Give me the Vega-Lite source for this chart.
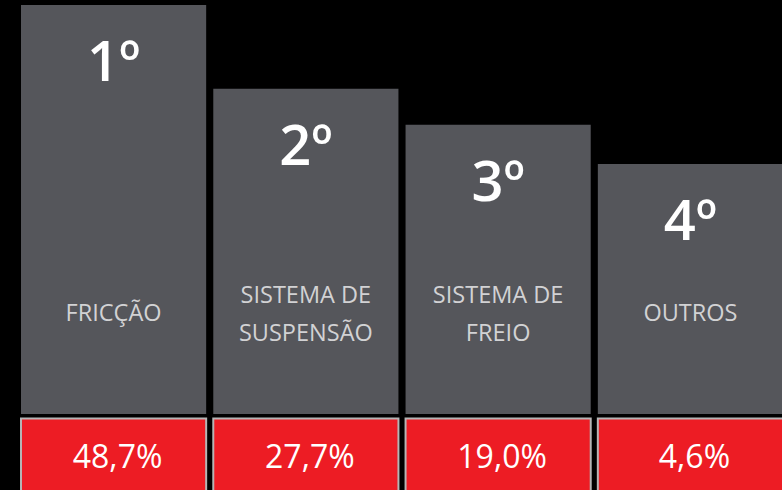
{
  "$schema": "https://vega.github.io/schema/vega-lite/v6.json",
  "width": 782,
  "height": 490,
  "autosize": {"type": "fit", "contains": "padding"},
  "padding": 0,
  "background": "#000000",
  "config": {"view": {"stroke": null}, "text": {"lineBreak": "\n"}},
  "data": {
    "values": [
      {"pos": "1", "rank": "1º", "categoria": "FRICÇÃO", "linhas": 1, "pct": "48,7%", "valor": 48.7, "altura": 100},
      {"pos": "2", "rank": "2º", "categoria": "SISTEMA DE\nSUSPENSÃO", "linhas": 2, "pct": "27,7%", "valor": 27.7, "altura": 79.5},
      {"pos": "3", "rank": "3º", "categoria": "SISTEMA DE\nFREIO", "linhas": 2, "pct": "19,0%", "valor": 19.0, "altura": 70.7},
      {"pos": "4", "rank": "4º", "categoria": "OUTROS", "linhas": 1, "pct": "4,6%", "valor": 4.6, "altura": 61.1}
    ]
  },
  "encoding": {
    "x": {
      "field": "pos", "type": "nominal",
      "scale": {"type": "band", "range": [21, 783], "paddingInner": 0.037, "paddingOuter": 0},
      "axis": null
    }
  },
  "layer": [
    {
      "mark": {"type": "bar", "color": "#55565b", "cornerRadius": 0},
      "encoding": {
        "y": {"field": "altura", "type": "quantitative", "scale": {"domain": [0, 100], "range": [414, 5], "zero": false, "nice": false}, "axis": null},
        "y2": {"datum": 0}
      }
    },
    {
      "mark": {"type": "bar", "color": "#ed1c24", "stroke": "#b5b5b5", "strokeWidth": 2},
      "encoding": {
        "y": {"datum": -1.1, "type": "quantitative"},
        "y2": {"datum": -19}
      }
    },
    {
      "mark": {"type": "text", "color": "#ffffff", "font": "Open Sans", "fontSize": 56, "fontWeight": 600, "baseline": "alphabetic", "dy": 76, "align": "center"},
      "encoding": {
        "y": {"field": "altura", "type": "quantitative"},
        "text": {"field": "rank"}
      }
    },
    {
      "transform": [{"filter": {"field": "linhas", "equal": 1}}],
      "mark": {"type": "text", "color": "#d2d2d4", "font": "Open Sans", "fontSize": 23.5, "baseline": "middle", "align": "center"},
      "encoding": {
        "y": {"datum": 24.4, "type": "quantitative"},
        "text": {"field": "categoria"}
      }
    },
    {
      "transform": [{"filter": {"field": "linhas", "equal": 2}}],
      "mark": {"type": "text", "color": "#d2d2d4", "font": "Open Sans", "fontSize": 23.5, "baseline": "middle", "align": "center", "lineHeight": 38},
      "encoding": {
        "y": {"datum": 28.85, "type": "quantitative"},
        "text": {"field": "categoria"}
      }
    },
    {
      "mark": {"type": "text", "color": "#ffffff", "font": "Open Sans", "fontSize": 32, "fontWeight": 500, "baseline": "middle", "align": "center", "dx": 4},
      "encoding": {
        "y": {"datum": -10.8, "type": "quantitative"},
        "text": {"field": "pct"}
      }
    }
  ]
}
